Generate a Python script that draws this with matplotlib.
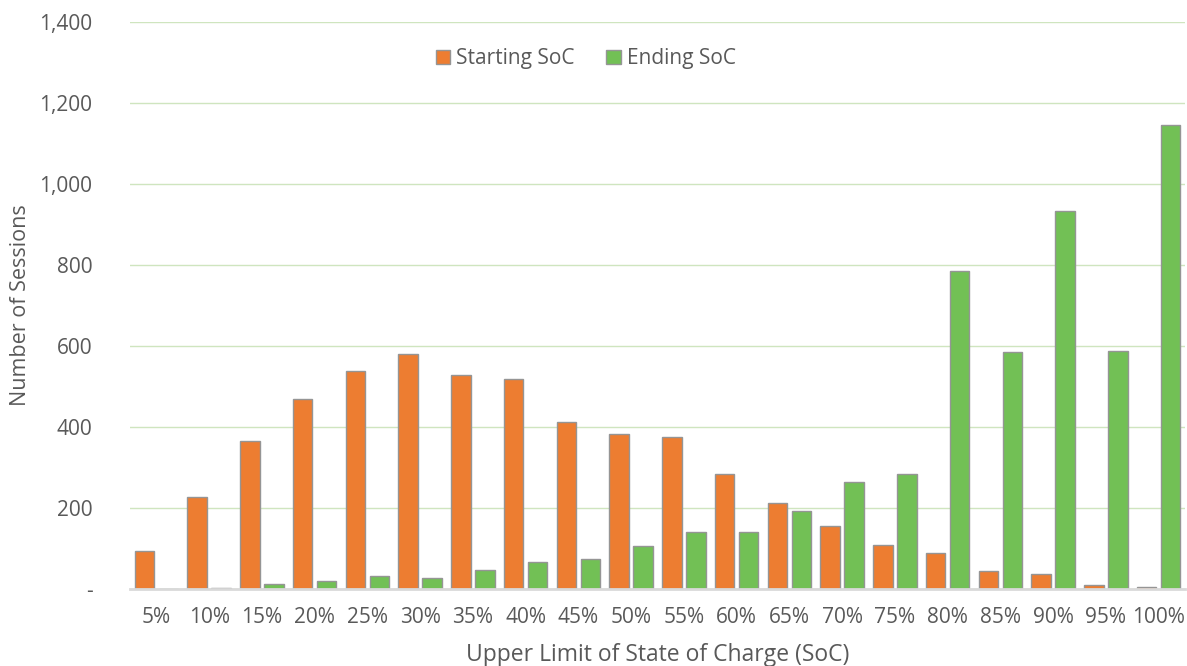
import matplotlib
matplotlib.use("Agg")
import matplotlib.pyplot as plt
from matplotlib.ticker import FuncFormatter, MultipleLocator
import numpy as np

categories = ["5%", "10%", "15%", "20%", "25%", "30%", "35%", "40%", "45%", "50%",
              "55%", "60%", "65%", "70%", "75%", "80%", "85%", "90%", "95%", "100%"]
starting_soc = [93, 227, 365, 469, 538, 580, 529, 518, 413, 383,
                375, 283, 212, 155, 109, 88, 45, 37, 10, 6]
ending_soc = [0, 3, 12, 20, 33, 28, 46, 66, 74, 105,
              140, 141, 193, 265, 285, 786, 585, 933, 588, 1146]

ORANGE = "#ED7D31"
GREEN = "#72C055"
EDGE = "#959595"
TEXT = "#595959"
GRID = "#CFE5BF"

plt.rcParams["font.family"] = ["Open Sans", "DejaVu Sans"]

fig = plt.figure(figsize=(11.87, 6.66), dpi=100)
ax = fig.add_axes([130 / 1187, 77 / 666, 1055 / 1187, 567 / 666])

x = np.arange(len(categories))
w = 0.37
off = 0.227
ax.bar(x - off, starting_soc, width=w, color=ORANGE, edgecolor=EDGE, linewidth=1.0,
       label="Starting SoC", zorder=3)
ax.bar(x + off, ending_soc, width=w, color=GREEN, edgecolor=EDGE, linewidth=1.0,
       label="Ending SoC", zorder=3)

ax.set_xlim(-0.5, len(categories) - 0.5)
ax.set_ylim(0, 1400)
ax.yaxis.set_major_locator(MultipleLocator(200))
ax.yaxis.set_major_formatter(FuncFormatter(lambda v, p: "-" if v == 0 else f"{int(v):,}"))
ax.set_xticks(x)
ax.set_xticklabels(categories)

ax.grid(axis="y", color=GRID, linewidth=1.0, zorder=0)
ax.set_axisbelow(True)
for s in ["left", "right", "top"]:
    ax.spines[s].set_visible(False)
ax.spines["bottom"].set_color("#D9D9D9")
ax.spines["bottom"].set_linewidth(2.0)
ax.spines["bottom"].set_zorder(4)

ax.tick_params(axis="both", length=0, colors=TEXT, labelsize=15)
ax.tick_params(axis="y", pad=27)
ax.tick_params(axis="x", pad=13)

ax.set_ylabel("Number of Sessions", color=TEXT, fontsize=15.5, labelpad=6)
ax.set_xlabel("Upper Limit of State of Charge (SoC)", color=TEXT, fontsize=16.5, labelpad=11)

leg = ax.legend(loc="center", bbox_to_anchor=(0.432, 0.935), ncol=2, frameon=False,
                fontsize=15, handlelength=0.7, handleheight=0.7, handletextpad=0.3,
                columnspacing=1.5)
for t in leg.get_texts():
    t.set_color(TEXT)

fig.savefig("out.png", dpi=100)
